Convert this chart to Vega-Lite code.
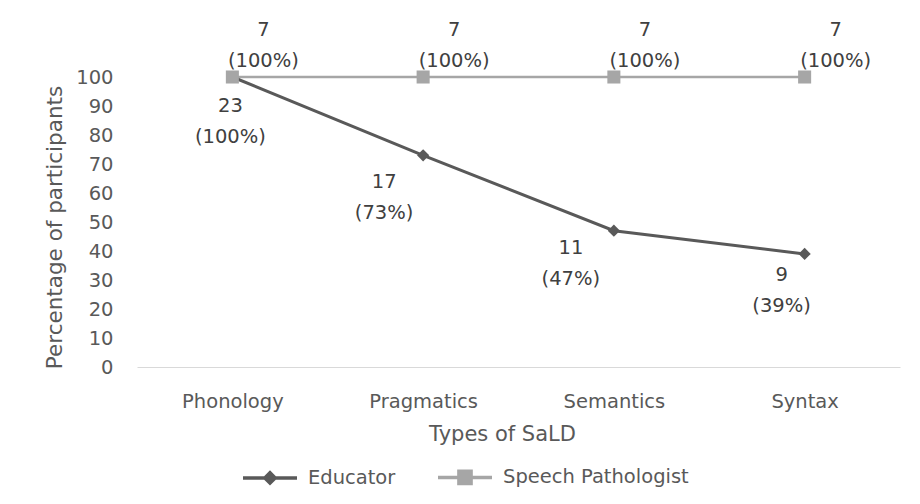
{
  "$schema": "https://vega.github.io/schema/vega-lite/v6.json",
  "width": 763,
  "height": 290,
  "autosize": {"type": "none"},
  "padding": {"left": 137, "top": 77, "right": 20, "bottom": 137},
  "background": "white",
  "config": {
    "view": {"stroke": null},
    "font": "DejaVu Sans",
    "axis": {"labelFont": "DejaVu Sans", "titleFont": "DejaVu Sans"},
    "legend": {"labelFont": "DejaVu Sans"}
  },
  "data": {
    "values": [
      {"type": "Phonology", "series": "Educator", "pct": 100, "label": "23\n(100%)"},
      {"type": "Pragmatics", "series": "Educator", "pct": 73, "label": "17\n(73%)"},
      {"type": "Semantics", "series": "Educator", "pct": 47, "label": "11\n(47%)"},
      {"type": "Syntax", "series": "Educator", "pct": 39, "label": "9\n(39%)"},
      {"type": "Phonology", "series": "Speech Pathologist", "pct": 100, "label": "7\n(100%)"},
      {"type": "Pragmatics", "series": "Speech Pathologist", "pct": 100, "label": "7\n(100%)"},
      {"type": "Semantics", "series": "Speech Pathologist", "pct": 100, "label": "7\n(100%)"},
      {"type": "Syntax", "series": "Speech Pathologist", "pct": 100, "label": "7\n(100%)"}
    ]
  },
  "encoding": {
    "x": {
      "field": "type",
      "type": "nominal",
      "sort": ["Phonology", "Pragmatics", "Semantics", "Syntax"],
      "scale": {"type": "point", "padding": 0.5},
      "axis": {
        "title": "Types of SaLD",
        "labelAngle": 0,
        "ticks": false,
        "tickSize": 0,
        "grid": false,
        "domainColor": "#d9d9d9",
        "domainWidth": 1,
        "labelColor": "#595959",
        "labelFontSize": 19.5,
        "labelPadding": 25,
        "titleFontSize": 21,
        "titleFontWeight": "normal",
        "titleColor": "#595959",
        "titlePadding": 13,
        "titleX": 365,
        "titleAlign": "center"
      }
    },
    "y": {
      "field": "pct",
      "type": "quantitative",
      "scale": {"domain": [0, 100], "nice": false},
      "axis": {
        "title": "Percentage of participants",
        "values": [0, 10, 20, 30, 40, 50, 60, 70, 80, 90, 100],
        "domain": false,
        "ticks": false,
        "tickSize": 0,
        "grid": false,
        "labelColor": "#595959",
        "labelFontSize": 19.5,
        "labelPadding": 24,
        "titleFontSize": 21.5,
        "titleFontWeight": "normal",
        "titleColor": "#595959",
        "titlePadding": 9,
        "titleY": 150,
        "titleAlign": "center"
      }
    }
  },
  "layer": [
    {
      "transform": [{"filter": "datum.series === 'Speech Pathologist'"}],
      "mark": {"type": "line", "strokeWidth": 2.5, "color": "#a6a6a6"},
      "encoding": {}
    },
    {
      "transform": [{"filter": "datum.series === 'Educator'"}],
      "mark": {"type": "line", "strokeWidth": 3, "color": "#595959"},
      "encoding": {}
    },
    {
      "transform": [{"filter": "datum.series === 'Educator'"}],
      "mark": {"type": "point", "shape": "diamond", "filled": true, "size": 150, "color": "#595959", "opacity": 1}
    },
    {
      "transform": [{"filter": "datum.series === 'Speech Pathologist'"}],
      "mark": {"type": "point", "shape": "square", "filled": true, "size": 170, "color": "#a6a6a6", "opacity": 1}
    },
    {
      "mark": {"type": "point", "filled": true, "opacity": 0, "strokeWidth": 3},
      "encoding": {
        "fill": {
          "field": "series",
          "type": "nominal",
          "scale": {"domain": ["Educator", "Speech Pathologist"], "range": ["#595959", "#a6a6a6"]},
          "legend": {
            "orient": "none", "legendX": 104, "legendY": 371, "direction": "horizontal", "title": null,
            "symbolSize": 2916, "symbolStrokeWidth": 3.5, "symbolOpacity": 1,
            "labelFontSize": 19.5, "labelColor": "#595959", "labelOffset": 9, "columnPadding": 35, "labelLimit": 400
          }
        },
        "stroke": {
          "field": "series",
          "type": "nominal",
          "scale": {"domain": ["Educator", "Speech Pathologist"], "range": ["#595959", "#a6a6a6"]}
        },
        "shape": {
          "field": "series",
          "type": "nominal",
          "scale": {
            "domain": ["Educator", "Speech Pathologist"],
            "range": [
              "M-1,0L1,0M0,-0.19L0.19,0L0,0.19L-0.19,0ZM-0.1,0L0.1,0M0,-0.1L0,0.1",
              "M-1,0L1,0M-0.29,-0.23L0.29,-0.23M-0.29,-0.12L0.29,-0.12M-0.29,0.12L0.29,0.12M-0.29,0.23L0.29,0.23"
            ]
          }
        }
      }
    },
    {
      "transform": [{"filter": "datum.series === 'Speech Pathologist'"}],
      "mark": {"type": "text", "fontSize": 19.5, "color": "#404040", "lineBreak": "\n", "lineHeight": 31, "baseline": "middle", "align": "center", "dx": 31, "dy": -47},
      "encoding": {"text": {"field": "label"}}
    },
    {
      "transform": [{"filter": "datum.series === 'Educator' && datum.type === 'Phonology'"}],
      "mark": {"type": "text", "fontSize": 19.5, "color": "#404040", "lineBreak": "\n", "lineHeight": 31, "baseline": "middle", "align": "center", "dx": -2, "dy": 29},
      "encoding": {"text": {"field": "label"}}
    },
    {
      "transform": [{"filter": "datum.series === 'Educator' && datum.type === 'Pragmatics'"}],
      "mark": {"type": "text", "fontSize": 19.5, "color": "#404040", "lineBreak": "\n", "lineHeight": 31, "baseline": "middle", "align": "center", "dx": -39, "dy": 27},
      "encoding": {"text": {"field": "label"}}
    },
    {
      "transform": [{"filter": "datum.series === 'Educator' && datum.type === 'Semantics'"}],
      "mark": {"type": "text", "fontSize": 19.5, "color": "#404040", "lineBreak": "\n", "lineHeight": 31, "baseline": "middle", "align": "center", "dx": -43, "dy": 17},
      "encoding": {"text": {"field": "label"}}
    },
    {
      "transform": [{"filter": "datum.series === 'Educator' && datum.type === 'Syntax'"}],
      "mark": {"type": "text", "fontSize": 19.5, "color": "#404040", "lineBreak": "\n", "lineHeight": 31, "baseline": "middle", "align": "center", "dx": -23, "dy": 21},
      "encoding": {"text": {"field": "label"}}
    }
  ]
}
